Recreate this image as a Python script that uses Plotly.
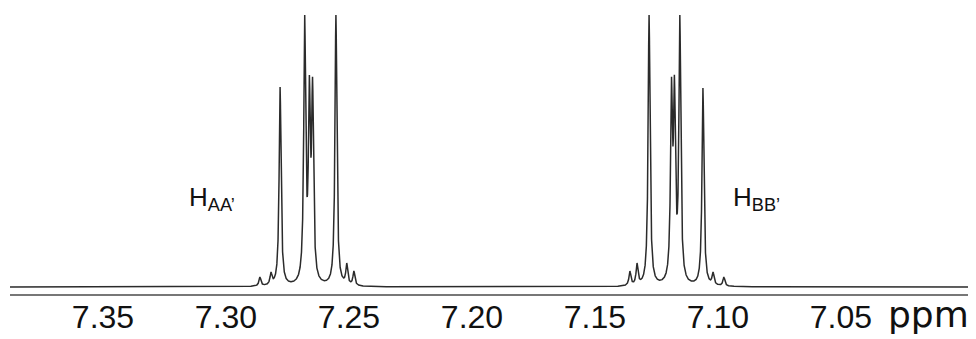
import numpy as np
import plotly.graph_objects as go

# Peak list (ppm, relative intensity)
aa_ppm = [7.2862, 7.2817, 7.2780, 7.2680, 7.2661, 7.2648, 7.2553, 7.2509, 7.2480]
aa_int = [10, 15, 200, 272, 212, 210, 272, 24, 16]
bb_ppm = [7.1358, 7.1329, 7.1280, 7.1189, 7.1177, 7.1155, 7.1061, 7.1020, 7.0976]
bb_int = [16, 24, 272, 210, 212, 272, 199, 15, 10]

tick_vals = [7.35, 7.30, 7.25, 7.20, 7.15, 7.10, 7.05]
tick_text = ["7.35", "7.30", "7.25", "7.20", "7.15", "7.10", "7.05"]

x_range = [7.3878, 6.9951]
gamma = 0.00046  # Lorentzian half width (ppm)

pos = np.array(aa_ppm + bb_ppm)
obs = np.array(aa_int + bb_int, dtype=float)

def lor(d):
    return gamma**2 / (d**2 + gamma**2)

# intrinsic amplitudes so the drawn peak tops match the read heights
A = lor(pos[:, None] - pos[None, :])
amp = np.linalg.solve(A, obs)

x = np.linspace(x_range[0], x_range[1], 24000)
y = (amp[None, :] * lor(x[:, None] - pos[None, :])).sum(axis=1)

fig = go.Figure()
fig.add_trace(go.Scatter(x=x, y=y, mode="lines",
                         line=dict(color="#2b2b2b", width=1.5),
                         hoverinfo="skip", showlegend=False))

# page body has an 8px margin: figure sits at (8, 8) in the window
OFF = 8
W, H = 976 - OFF, 339 - OFF
L = 10 - OFF          # plot left in figure px
PB = 294 - OFF        # plot bottom in figure px
B = H - PB
pw, ph = W - L, PB

def px(X):  # window px -> paper x
    return (X - OFF - L) / pw

def py(Y):  # window px -> paper y
    return (PB - (Y - OFF)) / ph

fig.add_annotation(text="H<sub>AA’</sub>", xref="paper", yref="paper",
                   x=px(187), y=py(198), xanchor="left", yanchor="middle",
                   showarrow=False,
                   font=dict(family="Liberation Sans", size=26, color="#111"))
fig.add_annotation(text="H<sub>BB’</sub>", xref="paper", yref="paper",
                   x=px(731), y=py(198), xanchor="left", yanchor="middle",
                   showarrow=False,
                   font=dict(family="Liberation Sans", size=26, color="#111"))
fig.add_annotation(text="ppm", xref="paper", yref="paper",
                   x=px(886), y=py(314), xanchor="left", yanchor="middle",
                   showarrow=False,
                   font=dict(family="DejaVu Sans", size=36, color="#111"))

fig.update_layout(
    width=W, height=H,
    margin=dict(l=L, r=0, t=0, b=B, pad=0),
    paper_bgcolor="white", plot_bgcolor="white",
    xaxis=dict(range=x_range, tickvals=tick_vals, ticktext=tick_text,
               showgrid=False, zeroline=False, showline=True,
               linecolor="#777", linewidth=1.5, ticks="",
               ticklabelstandoff=-6,
               tickfont=dict(family="Liberation Sans", size=32, color="#111"),
               automargin=False),
    yaxis=dict(range=[-7, 279], visible=False, fixedrange=True),
)

fig.write_html("out.html")
